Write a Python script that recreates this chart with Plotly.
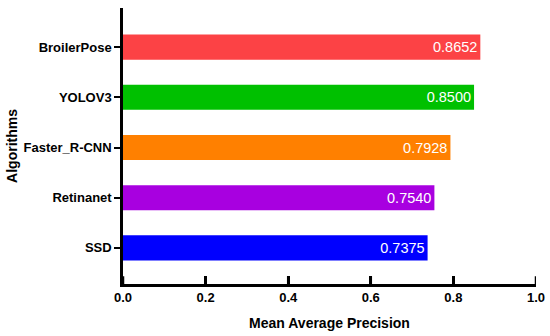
import plotly.graph_objects as go

algorithms = ["SSD", "Retinanet", "Faster_R-CNN", "YOLOV3", "BroilerPose"]
map_values = [0.7375, 0.7540, 0.7928, 0.8500, 0.8652]
value_labels = ["0.7375", "0.7540", "0.7928", "0.8500", "0.8652"]
bar_colors = ["#0000FF", "#A800E0", "#FF8000", "#00C000", "#FC4245"]
x_ticks = [0.0, 0.2, 0.4, 0.6, 0.8, 1.0]
x_tick_labels = ["0.0", "0.2", "0.4", "0.6", "0.8", "1.0"]

fig = go.Figure(go.Bar(
    x=map_values, y=algorithms, orientation="h",
    marker=dict(color=bar_colors, line=dict(width=0)),
    width=0.5,
    text=value_labels, textposition="inside", insidetextanchor="end",
    textfont=dict(color="white", size=14.5, family="Liberation Sans"),
    cliponaxis=False,
))

# inward tick marks on the x axis, placed at the tick values
tick_shapes = [dict(type="line", xref="x", yref="paper", x0=t, x1=t, y0=0, y1=0.028,
                    line=dict(color="black", width=2.5), layer="above")
               for t in x_ticks]

fig.update_layout(
    width=550, height=336,
    margin=dict(l=123, r=14, t=8, b=52),
    plot_bgcolor="white", paper_bgcolor="white",
    showlegend=False,
    font=dict(family="Liberation Sans", color="black"),
    xaxis=dict(
        range=[0, 1.0], tickvals=x_ticks, ticktext=x_tick_labels,
        showgrid=False, zeroline=False, automargin=False,
        showline=True, linecolor="black", linewidth=2.5,
        ticks="inside", ticklen=8, tickwidth=2.5, tickcolor="black",
        tickfont=dict(size=13, family="Liberation Sans", weight="bold"),
        title=dict(text="<b>Mean Average Precision</b>", font=dict(size=14), standoff=14),
        layer="above traces",
    ),
    yaxis=dict(
        range=[-0.72, 4.78],
        showgrid=False, zeroline=False, automargin=False,
        showline=True, linecolor="black", linewidth=2.5,
        ticks="outside", ticklen=6, tickwidth=2, tickcolor="black",
        tickfont=dict(size=13, family="Liberation Sans", weight="bold"),
    ),
    shapes=tick_shapes,
    annotations=[dict(
        text="<b>Algorithms</b>", font=dict(size=14, family="Liberation Sans", color="black"),
        textangle=-90, xref="paper", yref="paper", x=-0.269, y=0.5,
        xanchor="center", yanchor="middle", showarrow=False,
    )],
)

fig.write_html("out.html", config={"displayModeBar": False},
               post_script="document.body.style.margin='0';")
